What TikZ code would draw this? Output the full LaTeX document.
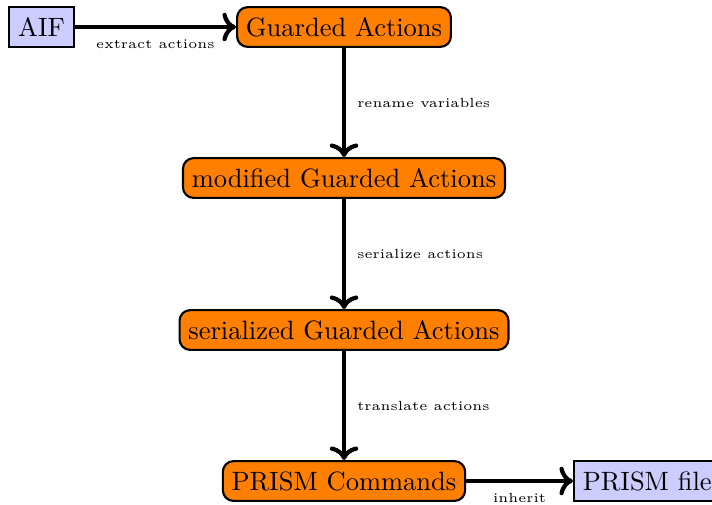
\documentclass[tikz,border=0pt]{standalone}
\usetikzlibrary{arrows.meta}
\begin{document}
\begin{tikzpicture}[x=0.3774pt,y=-0.3774pt,
  proc/.style={draw=black, thick, fill=orange, rounded corners=4pt, inner sep=3.33pt, minimum height=15pt},
  file/.style={draw=black, thick, fill=blue!20, inner sep=3.33pt, minimum height=15pt},
  flow/.style={->, line width=1.6pt},
  lab/.style={font=\tiny, inner sep=3pt}]
\useasboundingbox (0,0) rectangle (712,504);
\clip (0,0) rectangle (712,504);
\node[file] (aif) at (41.5,27) {AIF};
\node[proc] (ga) at (344,27) {Guarded Actions};
\node[proc] (mga) at (344,178) {modified Guarded Actions};
\node[proc] (sga) at (344,330) {serialized Guarded Actions};
\node[proc] (pc) at (344,481) {PRISM Commands};
\node[file, anchor=west] (pf) at (573,481) {PRISM file};
\draw[flow] (aif) -- node[lab, below, yshift=-1pt] {extract actions} (ga);
\draw[flow] (ga) -- node[lab, right, xshift=1.2pt] {rename variables} (mga);
\draw[flow] (mga) -- node[lab, right, xshift=1.2pt] {serialize actions} (sga);
\draw[flow] (sga) -- node[lab, right, xshift=1.2pt] {translate actions} (pc);
\draw[flow] (pc) -- node[lab, below, yshift=-1pt] {inherit} (pf);
\end{tikzpicture}
\end{document}
